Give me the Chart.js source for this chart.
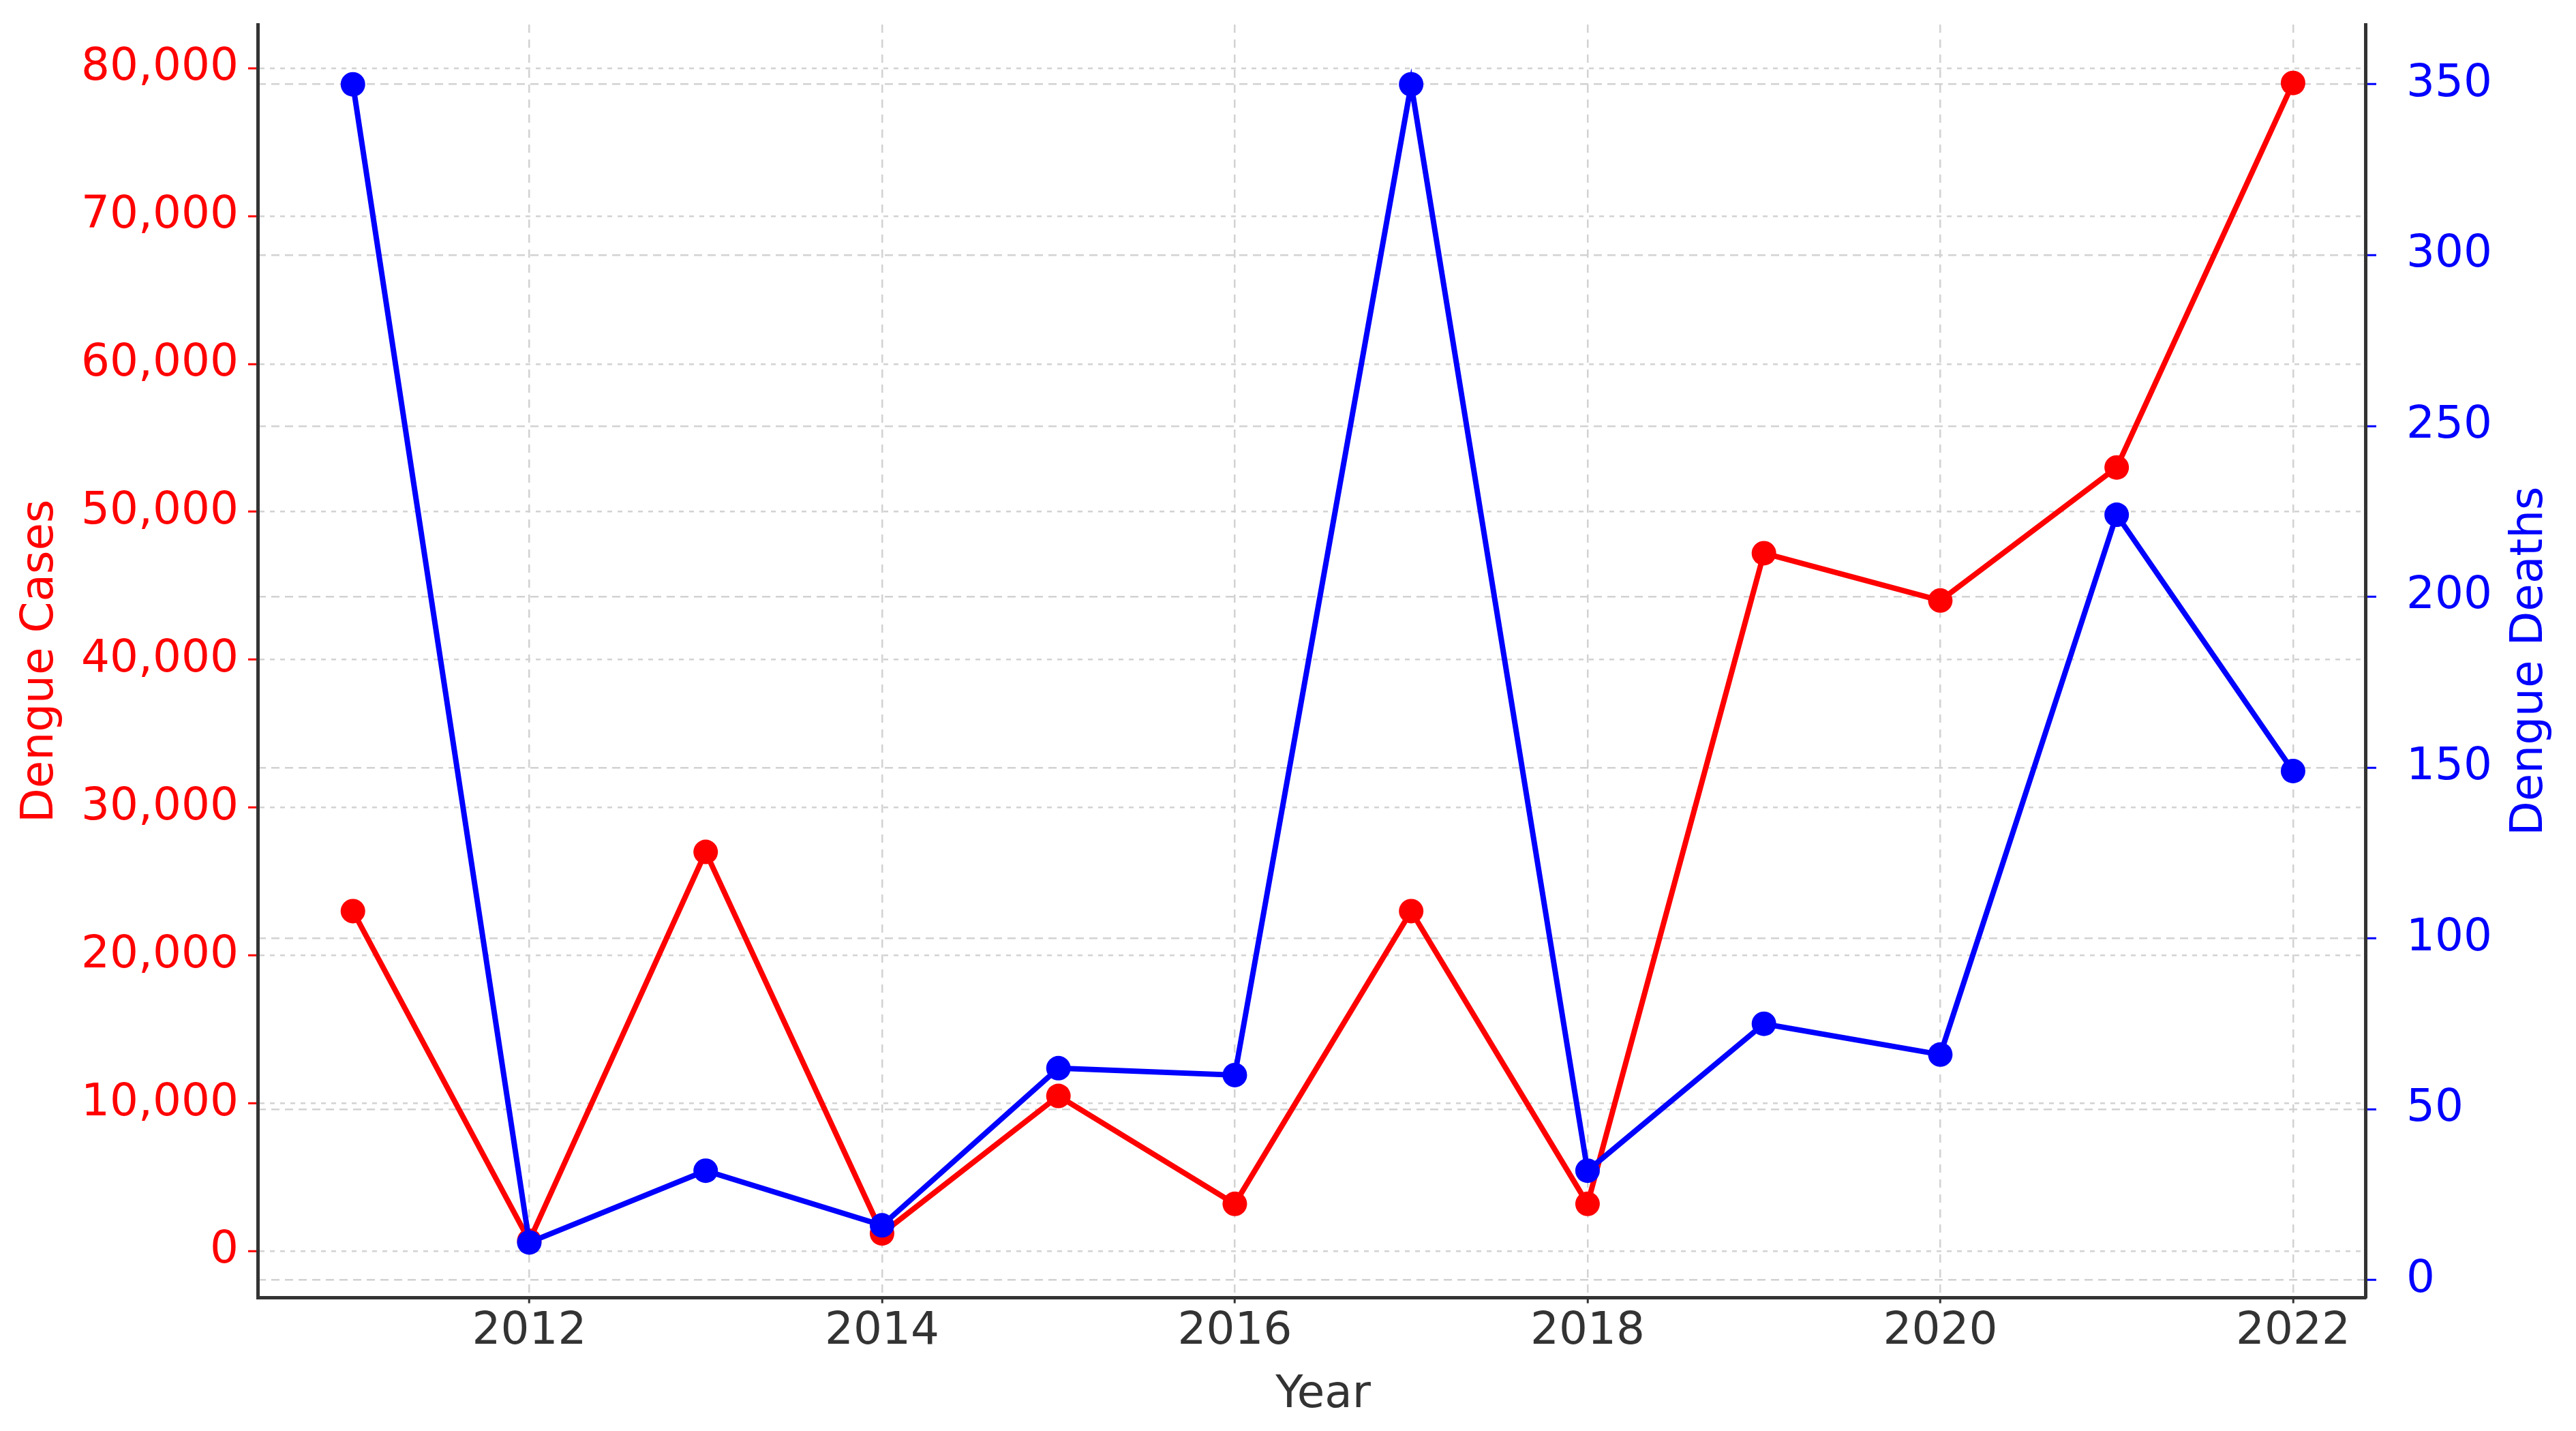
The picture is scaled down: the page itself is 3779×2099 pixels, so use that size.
<!DOCTYPE html>
<html>
<head>
<meta charset="utf-8">
<script src="https://cdn.jsdelivr.net/npm/chart.js@4.4.1/dist/chart.umd.min.js"></script>
<style>
  html, body { margin: 0; padding: 0; background: #fff; }
  canvas { display: block; }
</style>
</head>
<body>
<canvas id="grafico" width="3779" height="2099"></canvas>
<script>
const years = [2011, 2012, 2013, 2014, 2015, 2016, 2017, 2018, 2019, 2020, 2021, 2022];
const dengueCases = [23000, 700, 27000, 1200, 10500, 3200, 23000, 3200, 47200, 44000, 53000, 79000];
const dengueDeaths = [350, 11, 32, 16, 62, 60, 350, 32, 75, 66, 224, 149];

const yearTicks = [2012, 2014, 2016, 2018, 2020, 2022];
const casesTicks = [0, 10000, 20000, 30000, 40000, 50000, 60000, 70000, 80000];
const deathsTicks = [0, 50, 100, 150, 200, 250, 300, 350];

const RED = "#ff0000";
const BLUE = "#0000ff";
const DARK = "#333333";
const FONT = "DejaVu Sans";
const SIZE = 66;

Chart.defaults.font.family = FONT;
Chart.defaults.font.size = SIZE;

function toPoints(values) {
  return years.map((y, i) => ({ x: y, y: values[i] }));
}

function fixedTicks(list) {
  return (scale) => {
    scale.ticks = list.map((v) => ({ value: v }));
  };
}

// fixed axis widths, and no extra room above/below for the end labels
function fixWidth(w) {
  return (scale) => {
    scale.width = w;
    scale.paddingTop = 0;
    scale.paddingBottom = 0;
  };
}

function drawText(ctx, text, x, y, color, angle) {
  ctx.save();
  ctx.translate(x, y);
  ctx.rotate(angle);
  ctx.font = SIZE + "px '" + FONT + "'";
  ctx.fillStyle = color;
  ctx.textAlign = "center";
  ctx.textBaseline = "middle";
  ctx.fillText(text, 0, 0);
  ctx.restore();
}

// axis titles that chart.js places differently from the original
const extraTitles = {
  id: "extraTitles",
  afterDraw(chart) {
    const ctx = chart.ctx;
    const s = chart.scales.y1;
    drawText(ctx, "Dengue Deaths", s.right - 50, (s.top + s.bottom) / 2, BLUE, -Math.PI / 2);
    const x = chart.scales.x;
    drawText(ctx, "Year", (x.left + x.right) / 2 + 17, x.bottom - SIZE * 0.6, DARK, 0);
  },
};

let linhas = new Chart(document.getElementById("grafico"), {
  type: "line",
  data: {
    datasets: [
      {
        label: "Dengue Cases",
        data: toPoints(dengueCases),
        yAxisID: "y",
        borderColor: RED,
        backgroundColor: RED,
        borderWidth: 8,
        pointRadius: 18,
        pointBorderWidth: 0,
        tension: 0,
        order: 2,
      },
      {
        label: "Dengue Deaths",
        data: toPoints(dengueDeaths),
        yAxisID: "y1",
        borderColor: BLUE,
        backgroundColor: BLUE,
        borderWidth: 8,
        pointRadius: 18,
        pointBorderWidth: 0,
        tension: 0,
        order: 1,
      },
    ],
  },
  options: {
    responsive: false,
    animation: false,
    devicePixelRatio: 1,
    layout: {
      padding: { left: 20, right: 17, top: 36, bottom: 13 },
    },
    plugins: {
      legend: { display: false },
      tooltip: { enabled: false },
    },
    scales: {
      x: {
        type: "linear",
        min: 2010.46,
        max: 2022.41,
        afterBuildTicks: fixedTicks(yearTicks),
        ticks: {
          color: DARK,
          padding: 3,
          maxRotation: 0,
          callback: (v) => String(v),
        },
        grid: {
          color: "#d2d2d2",
          lineWidth: 2.5,
          tickLength: 8,
          tickColor: DARK,
          tickWidth: 3,
        },
        border: { display: true, color: DARK, width: 5, dash: [12, 10] },
        title: {
          display: true,
          text: "Year",
          color: "rgba(0,0,0,0)",
          padding: { top: 10, bottom: 0 },
        },
      },
      y: {
        type: "linear",
        position: "left",
        min: -3150,
        max: 82950,
        afterBuildTicks: fixedTicks(casesTicks),
        afterFit: fixWidth(358),
        ticks: {
          color: RED,
          padding: 14,
          callback: (v) => v.toLocaleString("en-US"),
        },
        grid: {
          color: "#d2d2d2",
          lineWidth: 2.5,
          tickLength: 14,
          tickColor: RED,
          tickWidth: 3,
        },
        border: { display: true, color: DARK, width: 5, dash: [7, 8] },
        title: {
          display: true,
          text: "Dengue Cases",
          color: RED,
          padding: { top: 0, bottom: 20 },
        },
      },
      y1: {
        type: "linear",
        position: "right",
        min: -5.2,
        max: 367.5,
        afterBuildTicks: fixedTicks(deathsTicks),
        afterFit: fixWidth(292),
        ticks: {
          color: BLUE,
          padding: 44,
          callback: (v) => String(v),
        },
        grid: {
          color: "#d2d2d2",
          lineWidth: 2.5,
          tickLength: 16,
          tickColor: BLUE,
          tickWidth: 3,
        },
        border: { display: true, color: DARK, width: 5, dash: [12, 8] },
      },
    },
  },
  plugins: [extraTitles],
});
</script>
</body>
</html>
